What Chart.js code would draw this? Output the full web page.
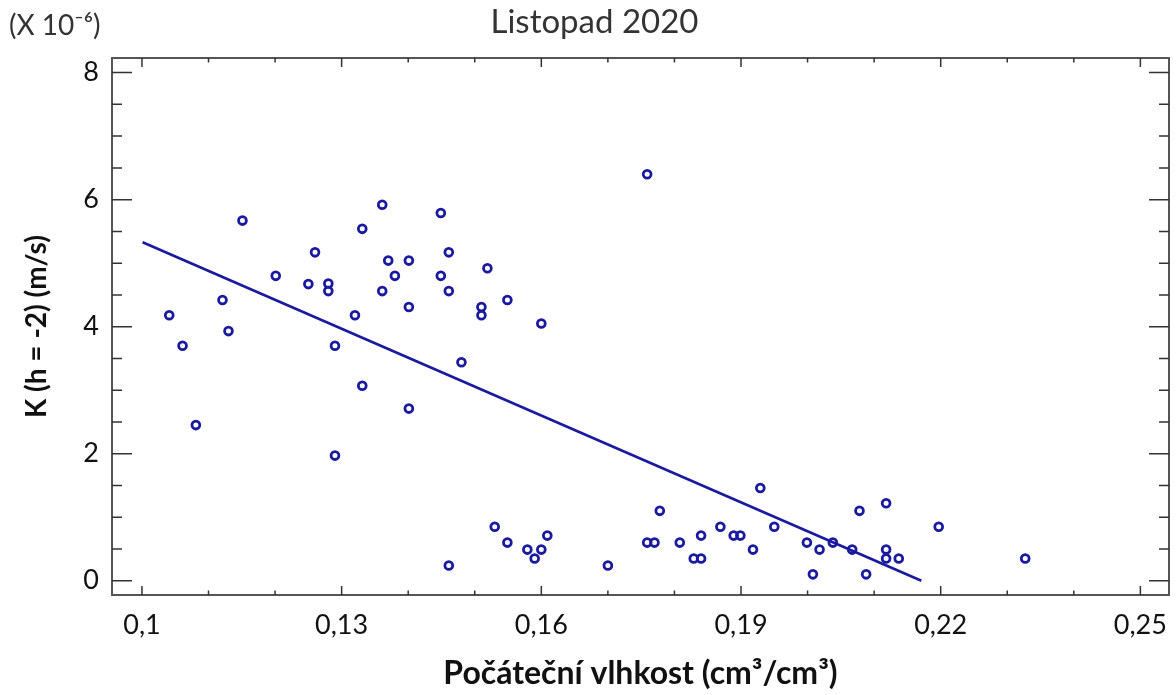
<!DOCTYPE html>
<html>
<head>
<meta charset="utf-8">
<script src="https://cdn.jsdelivr.net/npm/chart.js@4.4.1/dist/chart.umd.min.js"></script>
<style>
  html, body { margin: 0; padding: 0; background: #fff; }
  #wrap { width: 1176px; height: 695px; }
</style>
</head>
<body>
<div id="wrap"><canvas id="chart" width="1176" height="695"></canvas></div>
<script>
// --- DATA ---
const moisture = [
  0.1041, 0.1061, 0.1081, 0.1121, 0.1130, 0.1151, 0.1201, 0.1250, 0.1260, 0.1280,
  0.1280, 0.1290, 0.1290, 0.1320, 0.1331, 0.1331, 0.1361, 0.1361, 0.1370, 0.1380,
  0.1401, 0.1401, 0.1401, 0.1449, 0.1449, 0.1461, 0.1461, 0.1461, 0.1480, 0.1510,
  0.1510, 0.1519, 0.1530, 0.1549, 0.1549, 0.1579, 0.1590, 0.1600, 0.1600, 0.1609,
  0.1700, 0.1759, 0.1759, 0.1770, 0.1778, 0.1808, 0.1829, 0.1840, 0.1840, 0.1869,
  0.1889, 0.1899, 0.1918, 0.1929, 0.1950, 0.1999, 0.2008, 0.2018, 0.2038, 0.2067,
  0.2078, 0.2088, 0.2118, 0.2118, 0.2118, 0.2137, 0.2197, 0.2327
];
const conductivity = [
  4.18, 3.70, 2.45, 4.42, 3.93, 5.67, 4.80, 4.67, 5.17, 4.68,
  4.56, 3.70, 1.97, 4.18, 5.54, 3.07, 5.92, 4.56, 5.04, 4.80,
  5.04, 4.31, 2.71, 5.79, 4.80, 5.17, 4.56, 0.24, 3.44, 4.31,
  4.18, 4.92, 0.85, 4.42, 0.60, 0.49, 0.35, 4.05, 0.49, 0.71,
  0.24, 6.40, 0.60, 0.60, 1.10, 0.60, 0.35, 0.35, 0.71, 0.85,
  0.71, 0.71, 0.49, 1.46, 0.85, 0.60, 0.10, 0.49, 0.60, 0.49,
  1.10, 0.10, 1.22, 0.49, 0.35, 0.35, 0.85, 0.35
];
// regression line end points
const fitX = [0.1001, 0.2171];
const fitY = [5.33, 0.0];

const xTicks = [0.10, 0.13, 0.16, 0.19, 0.22, 0.25];
const xTickLabels = ["0,1", "0,13", "0,16", "0,19", "0,22", "0,25"];
const yTicks = [0, 2, 4, 6, 8];
const yTickLabels = ["0", "2", "4", "6", "8"];

const BLUE = "#1a1a9e";
const FONT = "Lato, 'Open Sans', sans-serif";

// --- inward tick marks + frame ---
const frameTicks = {
  id: "frameTicks",
  beforeDatasetsDraw(chart) {
    const { ctx, chartArea: a, scales: { x, y } } = chart;
    ctx.save();
    ctx.strokeStyle = "#555";
    ctx.lineWidth = 2;
    ctx.strokeRect(a.left, a.top, a.right - a.left, a.bottom - a.top);
    ctx.lineWidth = 1.5;
    ctx.strokeStyle = "#333";
    ctx.beginPath();
    for (let i = 0; i <= 15; i++) {
      const v = 0.10 + i * 0.01;
      const px = x.getPixelForValue(v);
      const len = i % 3 === 0 ? 9 : 4.5;
      ctx.moveTo(px, a.bottom); ctx.lineTo(px, a.bottom - len);
      ctx.moveTo(px, a.top); ctx.lineTo(px, a.top + len);
    }
    for (let i = 0; i <= 16; i++) {
      const v = i * 0.5;
      const py = y.getPixelForValue(v);
      const len = i % 4 === 0 ? 20 : 10;
      ctx.moveTo(a.left, py); ctx.lineTo(a.left + len, py);
      ctx.moveTo(a.right, py); ctx.lineTo(a.right - len, py);
    }
    ctx.stroke();
    ctx.restore();
  },
  afterDraw(chart) {
    const { ctx } = chart;
    ctx.save();
    ctx.fillStyle = "#333";
    ctx.font = "28px " + FONT;
    ctx.textBaseline = "middle";
    ctx.textAlign = "left";
    ctx.fillText("(X 10⁻⁶)", 9, 26);
    ctx.restore();
  }
};

new Chart(document.getElementById("chart"), {
  type: "scatter",
  data: {
    datasets: [
      {
        label: "K",
        data: moisture.map((v, i) => ({ x: v, y: conductivity[i] })),
        pointStyle: "circle",
        pointRadius: 3.9,
        pointBorderWidth: 2.8,
        pointBorderColor: BLUE,
        pointBackgroundColor: "rgba(255,255,255,0)",
        showLine: false
      },
      {
        label: "fit",
        data: fitX.map((v, i) => ({ x: v, y: fitY[i] })),
        showLine: true,
        borderColor: BLUE,
        borderWidth: 2.6,
        pointRadius: 0
      }
    ]
  },
  plugins: [frameTicks],
  options: {
    responsive: false,
    animation: false,
    layout: { padding: { left: 20, right: 7, top: 0, bottom: 2 } },
    plugins: {
      legend: { display: false },
      tooltip: { enabled: false },
      title: {
        display: true,
        text: "Listopad 2020",
        color: "#333",
        font: { family: FONT, size: 33, weight: "normal" },
        padding: { top: 3, bottom: 15.4 }
      }
    },
    scales: {
      x: {
        type: "linear",
        min: 0.0955,
        max: 0.2543,
        afterBuildTicks: (s) => { s.ticks = xTicks.map(v => ({ value: v })); },
        afterFit: (s) => { s.height = 98; s.paddingLeft = 0; s.paddingRight = 0; },
        grid: { display: false, drawTicks: false },
        border: { display: false },
        ticks: {
          autoSkip: false,
          maxRotation: 0,
          padding: 14,
          color: "#111",
          font: { family: FONT, size: 27 },
          callback: (v) => { const i = xTicks.findIndex(t => Math.abs(t - v) < 1e-9); return i >= 0 ? xTickLabels[i] : ""; }
        },
        title: {
          display: true,
          text: "Počáteční vlhkost (cm³/cm³)",
          color: "#111",
          font: { family: FONT, size: 32, weight: "bold" },
          padding: { top: 0, bottom: 0 }
        }
      },
      y: {
        type: "linear",
        min: -0.225,
        max: 8.23,
        afterBuildTicks: (s) => { s.ticks = yTicks.map(v => ({ value: v })); },
        afterFit: (s) => { s.width = 92; s.paddingTop = 0; s.paddingBottom = 0; },
        grid: { display: false, drawTicks: false },
        border: { display: false },
        ticks: {
          padding: 13,
          color: "#111",
          font: { family: FONT, size: 27 },
          callback: (v) => { const i = yTicks.indexOf(v); return i >= 0 ? yTickLabels[i] : ""; }
        },
        title: {
          display: true,
          text: "K (h = -2) (m/s)",
          color: "#111",
          font: { family: FONT, size: 28, weight: "bold" },
          padding: { top: 0, bottom: 0 }
        }
      }
    }
  }
});
</script>
</body>
</html>
